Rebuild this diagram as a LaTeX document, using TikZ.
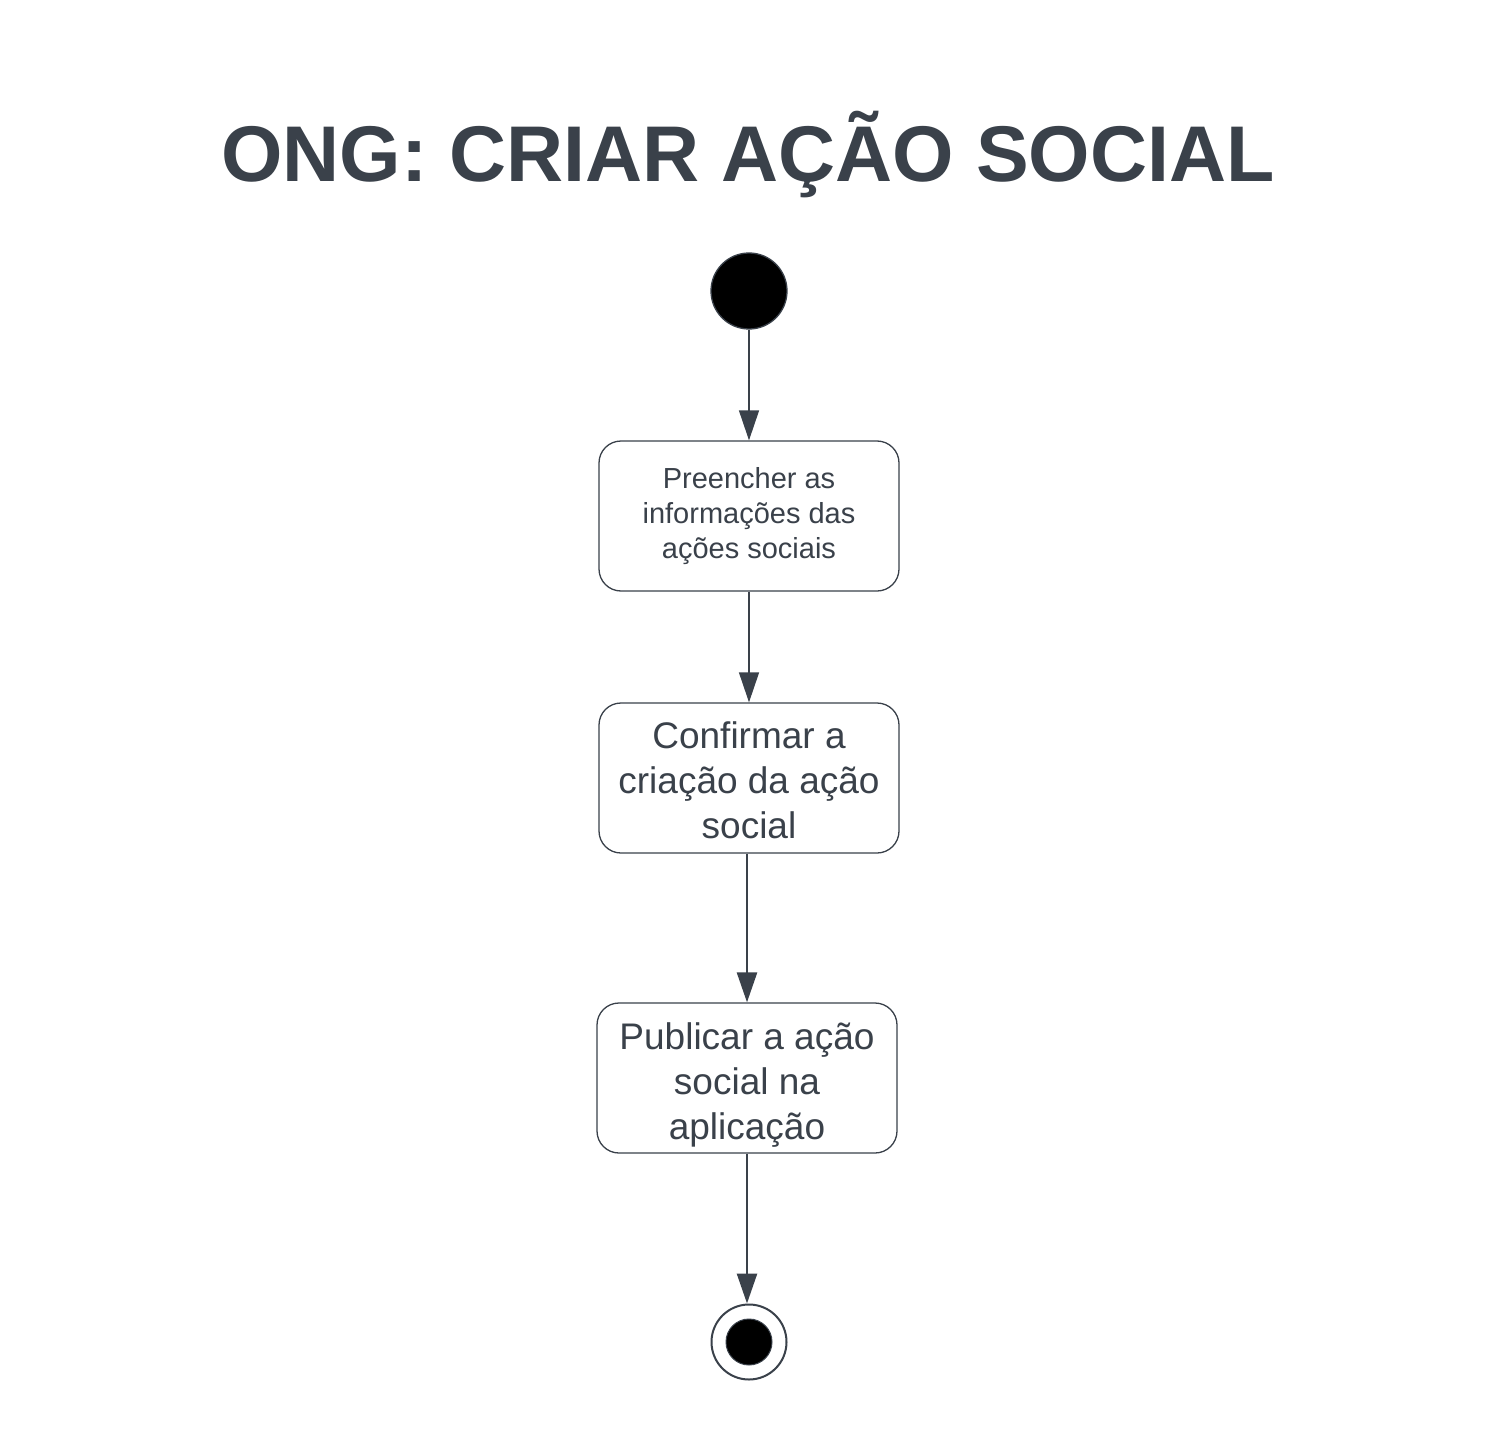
\documentclass[tikz,border=0pt]{standalone}
\usepackage{fontspec}
\setmainfont{Liberation Sans}
\usetikzlibrary{arrows.meta}
\definecolor{ink}{HTML}{3A414A}
\tikzset{
  act/.style={draw=ink, line width=1.3pt, rounded corners=22pt, minimum width=300pt, minimum height=150pt, align=center, text=ink, inner sep=0pt},
  flow/.style={draw=ink, line width=1.3pt, -{Triangle[width=20pt,length=30pt]}},
  flowthick/.style={draw=ink, line width=2.6pt, -{Triangle[width=20pt,length=30pt]}},
}
\begin{document}
\begin{tikzpicture}[x=1pt,y=-1pt]
\useasboundingbox[fill=white] (0,0) rectangle (1496,1455);
\node[text=ink, font=\fontsize{79}{90}\selectfont\bfseries] (title) at (748,155) {ONG: CRIAR AÇÃO SOCIAL};
\node[circle, fill=black, draw=ink, line width=1.3pt, minimum size=76pt, inner sep=0pt] (start) at (749,291) {};
\node[act, font=\fontsize{29}{35}\selectfont] (a1) at (749,516) {Preencher as\\informações das\\ações sociais};
\node[act, font=\fontsize{37}{45}\selectfont] (a2) at (749,778) {\rule{0pt}{31pt}Confirmar a\\criação da ação\\social};
\node[act, font=\fontsize{37}{45}\selectfont] (a3) at (747,1078) {\rule{0pt}{40pt}Publicar a ação\\social na\\aplicação};
\node[circle, draw=ink, line width=2pt, fill=white, minimum size=75pt, inner sep=0pt] (end) at (749,1342) {};
\node[circle, fill=black, draw=ink, line width=1pt, minimum size=46pt, inner sep=0pt] (endin) at (749,1342) {};
\draw[flow] (start) -- (a1);
\draw[flow] (a1) -- (a2);
\draw[flowthick] (a2.south -| 747,0) -- (a3.north);
\draw[flowthick] (a3) -- (a3 |- end.north);
\end{tikzpicture}
\end{document}
